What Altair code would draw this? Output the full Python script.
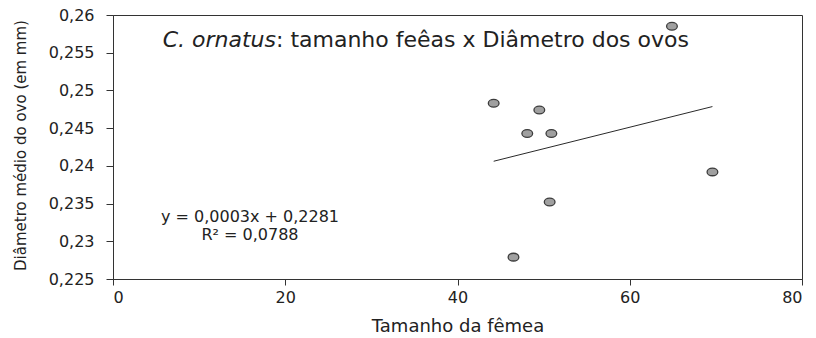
import altair as alt
import pandas as pd

# Female size (x) and mean egg diameter in mm (y)
femea = [44.2, 49.5, 48.1, 50.9, 69.6, 50.7, 46.5, 64.9]
ovo = [0.2483, 0.2474, 0.2443, 0.2443, 0.2392, 0.2352, 0.2279, 0.2585]

x_ticks = [0, 20, 40, 60, 80]
y_ticks = [0.225, 0.23, 0.235, 0.24, 0.245, 0.25, 0.255, 0.26]

titulo_especie = "C. ornatus"
titulo_resto = ": tamanho feêas x Diâmetro dos ovos"
equacao = "y = 0,0003x + 0,2281"
r2 = "R² = 0,0788"

df = pd.DataFrame({"femea": femea, "ovo": ovo})

FONT = "DejaVu Sans"
INK = "#222222"
W, H = 689, 264

x_enc = alt.X(
    "femea:Q",
    scale=alt.Scale(domain=[0, 80], nice=False),
    axis=alt.Axis(
        title="Tamanho da fêmea",
        values=x_ticks,
        tickCount=len(x_ticks) + 2,
        grid=False,
        tickSize=6,
        labelPadding=4,
        labelFontSize=16,
        labelOverlap=False,
        titleFontSize=18,
        titleFontWeight="normal",
        titleY=47,
        titleBaseline="middle",
    ),
)
y_enc = alt.Y(
    "ovo:Q",
    scale=alt.Scale(domain=[0.225, 0.26], nice=False, zero=False),
    axis=alt.Axis(
        title="Diâmetro médio do ovo (em mm)",
        values=y_ticks,
        tickCount=len(y_ticks) + 2,
        grid=False,
        tickSize=7,
        labelPadding=12,
        labelFontSize=16,
        labelOverlap=False,
        labelExpr="replace(format(datum.value, '.3~f'), '.', ',')",
        titleFontSize=15,
        titleFontWeight="normal",
        titleAngle=-90,
        titleX=-93,
        titleY=H / 2 - 2,
        titleAlign="center",
        titleBaseline="middle",
    ),
)

# egg-shaped (slightly flattened) point symbol
ellipse = "M-1,0A1,0.72,0,1,1,1,0A1,0.72,0,1,1,-1,0Z"

pontos = alt.Chart(df).mark_point(
    shape=ellipse, size=115, filled=True, fill="#a0a0a0",
    stroke="#3c3c3c", strokeWidth=1.3, opacity=1,
).encode(x=x_enc, y=y_enc)

tendencia = alt.Chart(df).transform_regression(
    "femea", "ovo"
).mark_line(color="#2a2a2a", strokeWidth=1).encode(x="femea:Q", y="ovo:Q")

t1 = alt.Chart(pd.DataFrame({"t": [titulo_especie]})).mark_text(
    font=FONT, fontSize=22, fontStyle="italic", align="right",
    baseline="alphabetic", color=INK,
).encode(text="t:N", x=alt.value(163), y=alt.value(32))

t2 = alt.Chart(pd.DataFrame({"t": [titulo_resto]})).mark_text(
    font=FONT, fontSize=22, align="left", baseline="alphabetic", color=INK,
).encode(text="t:N", x=alt.value(163), y=alt.value(32))

eq1 = alt.Chart(pd.DataFrame({"t": [equacao]})).mark_text(
    font=FONT, fontSize=16, align="center", baseline="middle", color=INK,
).encode(text="t:N", x=alt.value(137), y=alt.value(202))

eq2 = alt.Chart(pd.DataFrame({"t": [r2]})).mark_text(
    font=FONT, fontSize=16, align="center", baseline="middle", color=INK,
).encode(text="t:N", x=alt.value(137), y=alt.value(220))

chart = (
    alt.layer(tendencia, pontos, t1, t2, eq1, eq2)
    .properties(
        width=W,
        height=H,
        autosize=alt.AutoSizeParams(type="none"),
        padding={"left": 113, "top": 15, "right": 14, "bottom": 59},
        background="white",
    )
    .configure_view(stroke="#333333", strokeWidth=1)
    .configure_axis(
        labelFont=FONT,
        titleFont=FONT,
        labelColor=INK,
        titleColor=INK,
        domainColor="#333333",
        tickColor="#333333",
        domainWidth=1,
        tickWidth=1,
    )
)

chart.save("out.html", embed_options={"renderer": "svg", "actions": False})
